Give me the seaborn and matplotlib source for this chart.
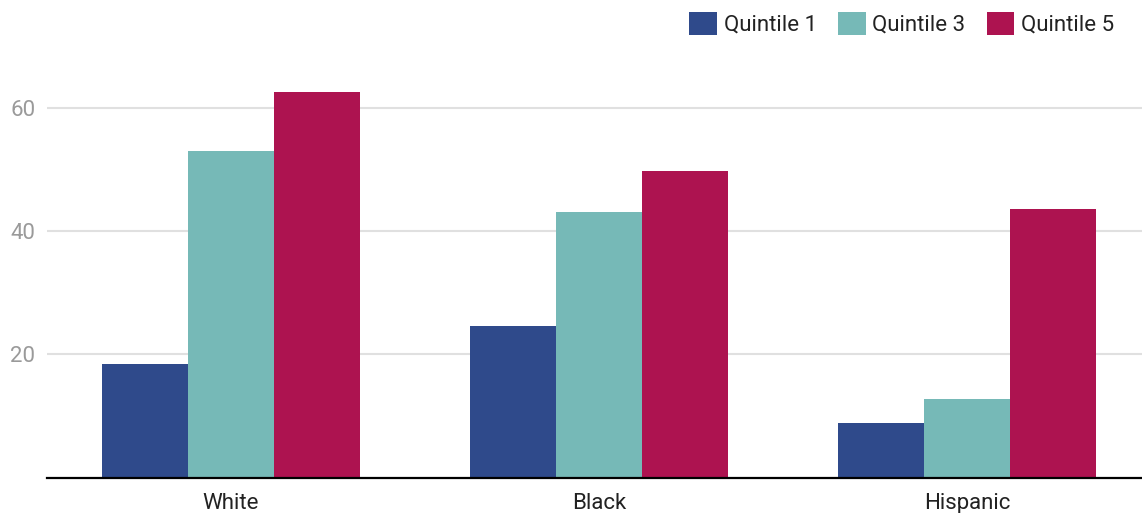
import matplotlib
matplotlib.use("Agg")
import matplotlib.pyplot as plt
import seaborn as sns
import pandas as pd

categories = ["White", "Black", "Hispanic"]
series_names = ["Quintile 1", "Quintile 3", "Quintile 5"]
quintile1 = [18.5, 24.6, 8.9]
quintile3 = [53.0, 43.1, 12.8]
quintile5 = [62.5, 49.7, 43.6]
colors = ["#2F4A8B", "#76B9B7", "#AD1350"]
y_ticks = [20, 40, 60]

rows = []
for name, vals in zip(series_names, [quintile1, quintile3, quintile5]):
    for cat, v in zip(categories, vals):
        rows.append({"group": cat, "series": name, "value": v})
df = pd.DataFrame(rows)

sns.set_theme(style="white")
plt.rcParams["font.family"] = ["Roboto", "DejaVu Sans"]

W, H = 1142, 513
fig = plt.figure(figsize=(W / 100, H / 100), dpi=100)
ax_left = 47 / W
ax_bottom = (H - 477.7) / H
ax_top = (H - 46) / H
ax = fig.add_axes([ax_left, ax_bottom, 1 - ax_left, ax_top - ax_bottom])

sns.barplot(data=df, x="group", y="value", hue="series", order=categories,
            hue_order=series_names, palette=colors, width=0.7, gap=0,
            saturation=1, linewidth=0, ax=ax, legend=False)

ax.set_xlim(-0.5, -0.5 + 1095 / 368)
ax.set_ylim(0, 70)
ax.set_yticks(y_ticks)
ax.yaxis.grid(True, color="#e0e0e0", linewidth=1.5)
ax.set_axisbelow(True)
for s in ["top", "right", "left"]:
    ax.spines[s].set_visible(False)
ax.spines["bottom"].set_color("#000000")
ax.spines["bottom"].set_linewidth(1.6)
ax.set_xlabel("")
ax.set_ylabel("")
ax.tick_params(axis="y", length=0, labelsize=16, labelcolor="#9a9a9a", pad=0)
ax.tick_params(axis="x", length=0, labelsize=16, labelcolor="#222222", pad=11)
for lbl in ax.get_yticklabels():
    lbl.set_horizontalalignment("left")
    lbl.set_transform(matplotlib.transforms.blended_transform_factory(fig.transFigure, ax.transData))
    lbl.set_x(10 / W)

from matplotlib.patches import Patch
handles = [Patch(facecolor=c, edgecolor="none") for c in colors]
fig.legend(handles, series_names, loc="upper right", bbox_to_anchor=(1122 / W, 1.0 - 4 / H),
           ncol=3, frameon=False, fontsize=16, handlelength=1.25, handleheight=1.25,
           handletextpad=0.3, columnspacing=0.95, borderaxespad=0.0,
           borderpad=0.35, labelcolor="#222222")

fig.savefig("out.png", dpi=100)
